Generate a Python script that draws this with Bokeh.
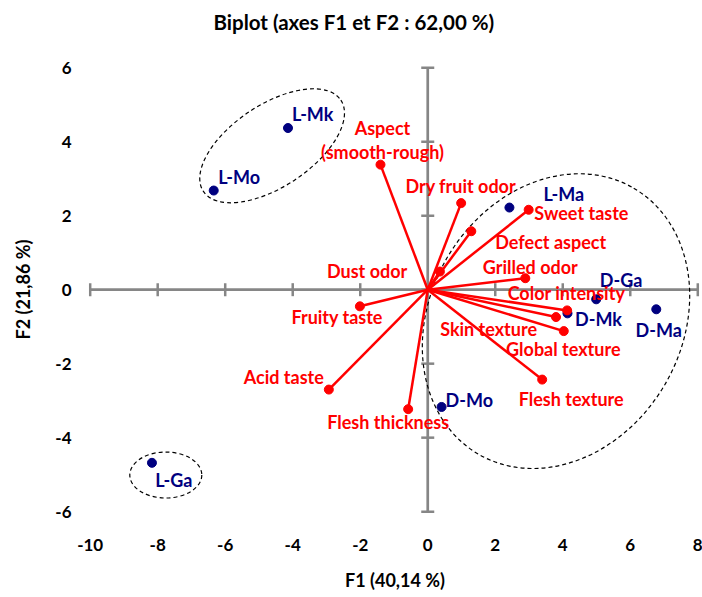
import math
from bokeh.plotting import figure
from bokeh.models import Range1d, FixedTicker, ColumnDataSource, Title
from bokeh.core.properties import value
from bokeh.embed import file_html
from bokeh.resources import INLINE

# ---------------- data ----------------
obs_names = ["L-Mk", "L-Mo", "L-Ma", "D-Ga", "D-Ma", "D-Mk", "D-Mo", "L-Ga"]
obs_f1 = [-4.14, -6.34, 2.42, 4.99, 6.77, 4.14, 0.41, -8.17]
obs_f2 = [4.37, 2.68, 2.22, -0.26, -0.53, -0.64, -3.17, -4.68]

var_names = ["Aspect\n(smooth-rough)", "Dry fruit odor", "Sweet taste", "Defect aspect",
             "Dust odor", "Grilled odor", "Color intensity", "Skin texture",
             "Global texture", "Flesh texture", "Fruity taste", "Acid taste",
             "Flesh thickness"]
var_f1 = [-1.40, 0.99, 2.99, 1.29, 0.36, 2.89, 4.13, 3.80, 4.03, 3.39, -2.01, -2.93, -0.58]
var_f2 = [3.38, 2.34, 2.16, 1.58, 0.49, 0.31, -0.56, -0.74, -1.12, -2.43, -0.45, -2.70, -3.23]

# groups drawn as dashed ellipses (centre in F1/F2 units)
group_f1 = [-4.61, -7.76, 3.80]
group_f2 = [3.89, -5.01, -0.85]

x_ticks = [-10, -8, -6, -4, -2, 0, 2, 4, 6, 8]
x_tick_labels = ["-10", "-8", "-6", "-4", "-2", "0", "2", "4", "6", "8"]
y_ticks = [-6, -4, -2, 0, 2, 4, 6]
y_tick_labels = ["-6", "-4", "-2", "0", "2", "4", "6"]

title_text = "Biplot (axes F1 et F2 : 62,00 %)"
x_title = "F1 (40,14 %)"
y_title = "F2 (21,86 %)"

# ---------------- layout / style ----------------
FONT = "Lato"
NAVY = "#00007F"
RED = "#FF0000"
GRAY = "#868686"
LABEL_SIZE = "18px"

# label placement (screen px): alignment, dx, dy (dy positive = down)
obs_align = ["left"] * 8
obs_dx = [4, 4.4, 34, 3.6, -20.7, 7.6, 4, 3.3]
obs_dy = [-13.6, -13.6, -14, -19, 21, 5.6, -6.7, 17]

var_align = ["center", "center", "left", "left", "right", "center", "center",
             "right", "center", "center", "right", "right", "center"]
var_dx = [2, -0.4, 5.7, 24, -32.6, 5, -0.7, -19, -0.5, 29, 23, -5, -20]
var_dy = [-25, -16.7, 3.4, 10.7, -1, -11, -17.3, 11.6, 18.3, 19, 10.7, -12.6, 13]

# ellipse shapes (screen px / degrees)
grp_w = [165, 72, 308]
grp_h = [82, 46, 252]
grp_angle = [33.6, 0, 59.7]

p = figure(width=702, height=597, output_backend="svg", toolbar_location=None,
           title=None,
           x_range=Range1d(-10.05, 8.11), y_range=Range1d(-6.05, 6.06),
           min_border_left=88, min_border_right=1, min_border_top=65,
           min_border_bottom=84, background_fill_color="white",
           border_fill_color="white")
p.outline_line_color = None
p.grid.visible = False

# spacer between frame and title, then the title itself
spacer = Title(text=" ", text_font_size="1px", standoff=24)
p.add_layout(spacer, "above")
main_title = Title(text=title_text, align="left", offset=125, standoff=10,
                   text_font=FONT, text_font_size="20.5px", text_font_style="bold",
                   text_color="black")
p.add_layout(main_title, "above")

for ax, ticks, labels in ((p.xaxis[0], x_ticks, x_tick_labels), (p.yaxis[0], y_ticks, y_tick_labels)):
    ax.ticker = FixedTicker(ticks=ticks)
    ax.major_label_overrides = {t: l for t, l in zip(ticks, labels)}
    ax.axis_line_color = None
    ax.major_tick_line_color = None
    ax.minor_tick_line_color = None
    ax.major_tick_out = 0
    ax.major_tick_in = 0
    ax.major_label_text_font = FONT
    ax.major_label_text_font_size = "17px"
    ax.major_label_text_font_style = "bold"
    ax.major_label_text_color = "black"
    ax.axis_label_text_font = FONT
    ax.axis_label_text_font_size = "18px"
    ax.axis_label_text_font_style = "bold"
    ax.axis_label_text_color = "black"

p.xaxis.axis_label = x_title
p.yaxis.axis_label = y_title
p.xaxis.major_label_standoff = 25
p.yaxis.major_label_standoff = 17
p.xaxis.axis_label_standoff = 15
p.yaxis.axis_label_standoff = 18

# crossing axes through the origin
p.segment(x0=[x_ticks[0]], y0=[0], x1=[x_ticks[-1]], y1=[0], line_color=GRAY, line_width=2.7)
p.segment(x0=[0], y0=[y_ticks[0]], x1=[0], y1=[y_ticks[-1]], line_color=GRAY, line_width=2.7)
p.scatter(x=x_ticks, y=[0] * len(x_ticks), marker="dash", size=13, angle=math.pi / 2,
          line_color=GRAY, line_width=2.5)
p.scatter(x=[0] * len(y_ticks), y=y_ticks, marker="dash", size=13, angle=0,
          line_color=GRAY, line_width=2.5)

# group ellipses
p.ellipse(x=group_f1, y=group_f2, width=grp_w, height=grp_h, angle=grp_angle,
          width_units="screen", height_units="screen", angle_units="deg",
          fill_color=None, line_color="black", line_width=1.2, line_dash="4 3")

# observations
p.scatter(x=obs_f1, y=obs_f2, size=9, marker="circle", fill_color=NAVY, line_color=NAVY)

# variable vectors
p.segment(x0=[0] * len(var_f1), y0=[0] * len(var_f1), x1=var_f1, y1=var_f2,
          line_color=RED, line_width=2.5)
p.scatter(x=var_f1, y=var_f2, size=9, marker="circle", fill_color=RED, line_color=RED)


def add_labels(names, xs, ys, aligns, dxs, dys, color, line_height=1.2):
    for al in ("left", "center", "right"):
        idx = [i for i, a in enumerate(aligns) if a == al]
        if not idx:
            continue
        src = ColumnDataSource(dict(x=[xs[i] for i in idx], y=[ys[i] for i in idx],
                                    t=[names[i] for i in idx], dx=[dxs[i] for i in idx],
                                    dy=[dys[i] for i in idx]))
        p.text(x="x", y="y", text="t", x_offset="dx", y_offset="dy", source=src,
               text_align=al, text_baseline="middle", text_font=value(FONT),
               text_font_size=LABEL_SIZE, text_font_style="bold", text_color=color,
               text_line_height=line_height)


add_labels(obs_names, obs_f1, obs_f2, obs_align, obs_dx, obs_dy, NAVY)
add_labels(var_names, var_f1, var_f2, var_align, var_dx, var_dy, RED, line_height=1.08)

open("out.html", "w").write(file_html(p, INLINE))
